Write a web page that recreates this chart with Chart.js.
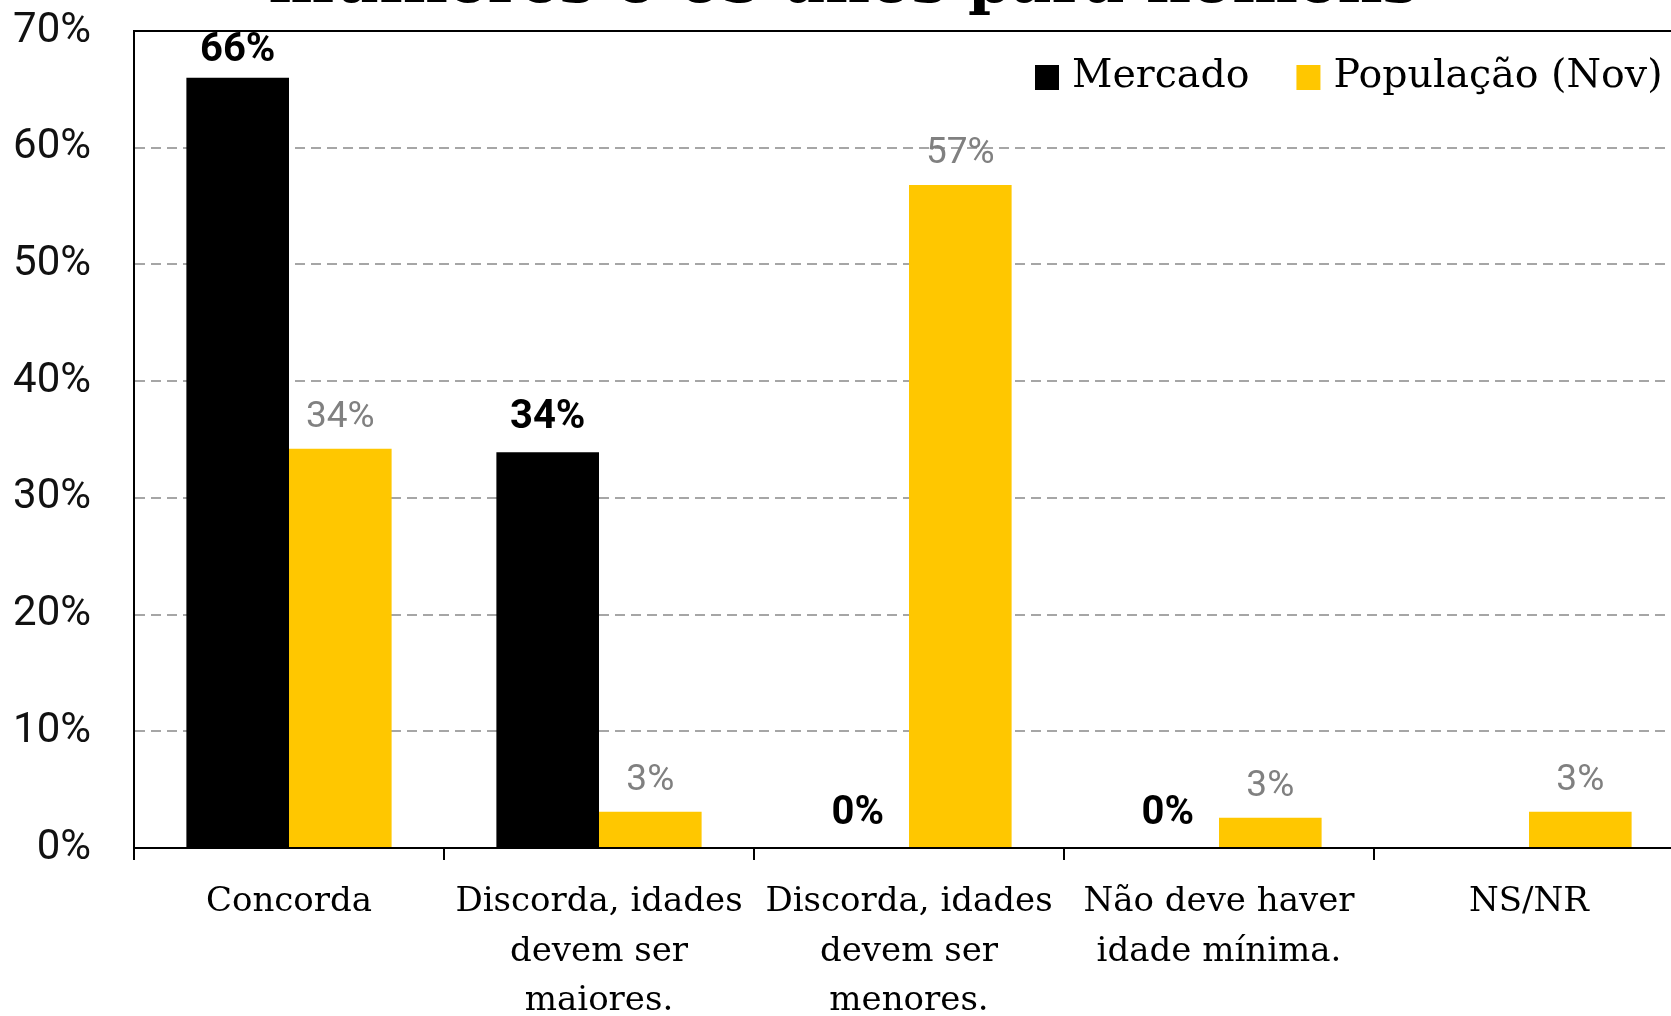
<!DOCTYPE html>
<html>
<head>
<meta charset="utf-8">
<script src="https://cdn.jsdelivr.net/npm/chart.js@4"></script>
<style>
  html, body { margin: 0; padding: 0; background: #fff; overflow: hidden; }
  #wrap { position: absolute; left: 0; top: 0; width: 1700px; height: 1016px; }
</style>
</head>
<body>
<div id="wrap"><canvas id="chart" width="1700" height="1016"></canvas></div>
<script>
// dados
const categories = [
    ['Concorda'],
    ['Discorda, idades', 'devem ser', 'maiores.'],
    ['Discorda, idades', 'devem ser', 'menores.'],
    ['Não deve haver', 'idade mínima.'],
    ['NS/NR']
];
const seriesNames = ['Mercado', 'População (Nov)'];
const mercado = [66, 33.9, 0, 0, null];
const populacao = [34.2, 3.1, 56.8, 2.6, 3.1];
const yTicks = [0, 10, 20, 30, 40, 50, 60, 70];
const titleText = 'mulheres e 65 anos para homens';

const BLACK = '#000000';
const GOLD = '#FFC700';

// título cortado no topo (só a parte de baixo aparece)
const titlePlugin = {
    id: 'titleCut',
    afterDraw(chart) {
        const ctx = chart.ctx;
        ctx.save();
        ctx.font = 'bold 62px "DejaVu Serif"';
        ctx.fillStyle = '#000';
        ctx.textAlign = 'center';
        ctx.textBaseline = 'alphabetic';
        ctx.fillText(titleText, 843, 2);
        ctx.restore();
    }
};

// borda superior da área do gráfico
const framePlugin = {
    id: 'frame',
    afterDraw(chart) {
        const { ctx, chartArea } = chart;
        ctx.save();
        ctx.strokeStyle = '#000';
        ctx.lineWidth = 2;
        ctx.beginPath();
        ctx.moveTo(chartArea.left, chartArea.top);
        ctx.lineTo(chartArea.right, chartArea.top);
        ctx.stroke();
        ctx.restore();
    }
};

// rótulos de dados acima das barras
const labelsPlugin = {
    id: 'barLabels',
    afterDatasetsDraw(chart) {
        const ctx = chart.ctx;
        const top = chart.chartArea.top;
        ctx.save();
        ctx.textAlign = 'center';
        ctx.textBaseline = 'middle';
        chart.data.datasets.forEach((ds, i) => {
            const meta = chart.getDatasetMeta(i);
            meta.data.forEach((bar, j) => {
                const v = ds.data[j];
                if (v === null || v === undefined) return;
                if (i === 0) {
                    ctx.font = 'bold 40px Roboto';
                    ctx.fillStyle = '#000';
                } else {
                    ctx.font = '37px Roboto';
                    ctx.fillStyle = '#808080';
                }
                const off = i === 0 ? 34.5 : 31;
                const y = Math.max(bar.y - off, top + 20);
                ctx.fillText(Math.round(v) + '%', bar.x, y);
            });
        });
        ctx.restore();
    }
};

// legenda dentro da área do gráfico
const legendPlugin = {
    id: 'innerLegend',
    afterDraw(chart) {
        const ctx = chart.ctx;
        ctx.save();
        ctx.font = '39.5px "DejaVu Serif"';
        ctx.textBaseline = 'middle';
        ctx.textAlign = 'left';
        let x = 1035;
        const yMid = 77;
        chart.data.datasets.forEach(ds => {
            ctx.fillStyle = ds.backgroundColor;
            ctx.fillRect(x, yMid - 12, 24, 25);
            x += 24 + 13;
            ctx.fillStyle = '#000';
            ctx.fillText(ds.label, x, yMid);
            x += ctx.measureText(ds.label).width + 47;
        });
        ctx.restore();
    }
};

new Chart(document.getElementById('chart'), {
    type: 'bar',
    data: {
        labels: categories,
        datasets: [
            { label: seriesNames[0], data: mercado, backgroundColor: BLACK },
            { label: seriesNames[1], data: populacao, backgroundColor: GOLD }
        ]
    },
    options: {
        responsive: false,
        animation: false,
        devicePixelRatio: 1,
        layout: { padding: { top: 31, right: 16, left: 0, bottom: 0 } },
        datasets: { bar: { categoryPercentage: 0.662, barPercentage: 1.0 } },
        plugins: {
            legend: { display: false },
            tooltip: { enabled: false },
            title: { display: false }
        },
        scales: {
            x: {
                offset: true,
                grid: {
                    display: true,
                    offset: true,
                    drawOnChartArea: false,
                    drawTicks: true,
                    tickLength: 12,
                    color: '#000',
                    lineWidth: 2
                },
                border: { display: true, color: '#000', width: 2 },
                ticks: {
                    autoSkip: false,
                    maxRotation: 0,
                    minRotation: 0,
                    padding: 18,
                    color: '#000',
                    font: { family: '"DejaVu Serif"', size: 34, lineHeight: 1.45 }
                },
                afterFit(scale) { scale.height = 168; }
            },
            y: {
                min: 0,
                max: 70,
                afterBuildTicks(scale) { scale.ticks = yTicks.map(v => ({ value: v })); },
                grid: {
                    drawTicks: false,
                    lineWidth: 2,
                    color: c => (c.tick && (c.tick.value === 0 || c.tick.value === 70)) ? 'rgba(0,0,0,0)' : '#a6a6a6'
                },
                border: { display: true, color: '#000', width: 2, dash: [10, 6] },
                ticks: {
                    padding: 43,
                    color: '#111',
                    font: { family: 'Roboto', size: 42 },
                    callback: v => v + '%'
                },
                afterFit(scale) {
                    scale.width = 134;
                    scale.paddingTop = 0;
                    scale.paddingBottom = 0;
                }
            }
        }
    },
    plugins: [labelsPlugin, framePlugin, legendPlugin, titlePlugin]
});
</script>
</body>
</html>
